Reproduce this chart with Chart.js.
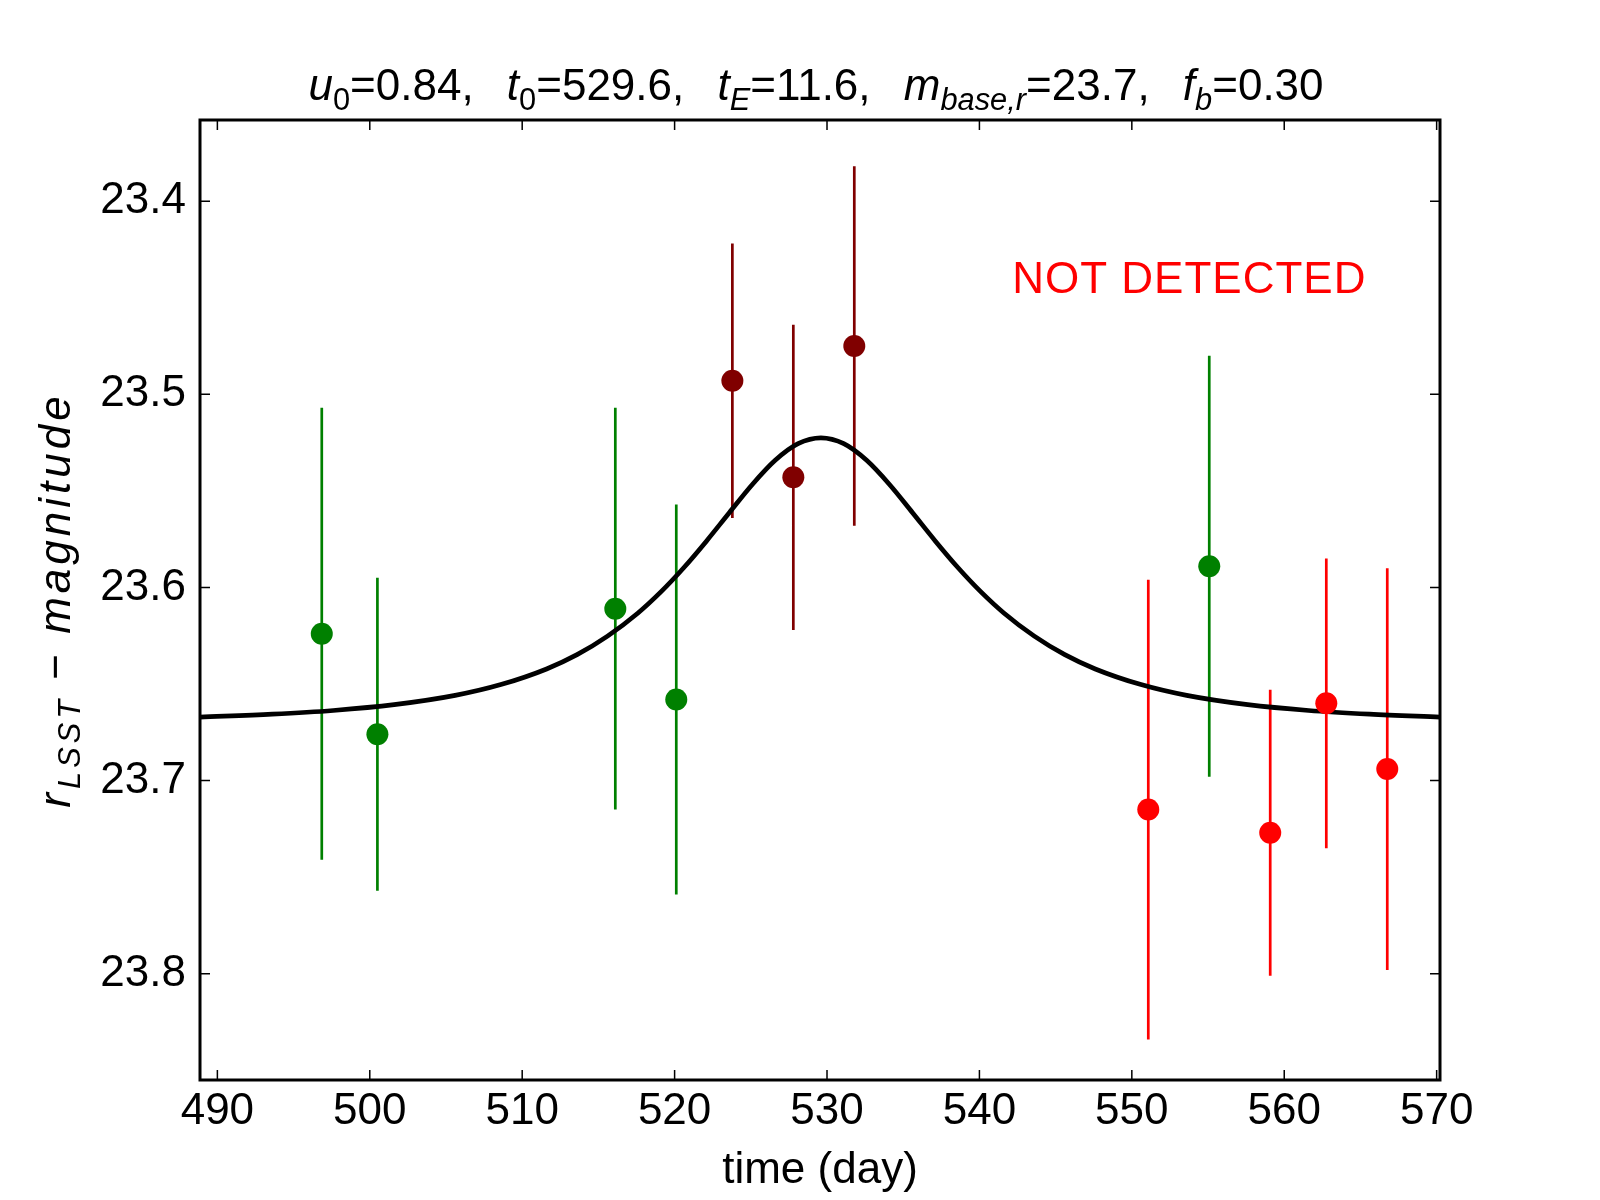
<!DOCTYPE html>
<html>
<head>
<meta charset="utf-8">
<title>Light curve</title>
<script src="https://cdn.jsdelivr.net/npm/chart.js@4.4.1/dist/chart.umd.min.js"></script>
<style>
  html, body { margin: 0; padding: 0; background: #fff; }
  #wrap { width: 1600px; height: 1200px; }
</style>
</head>
<body>
<div id="wrap"><canvas id="lightcurve"></canvas></div>
<script>
// epochs (day), r magnitudes and 1-sigma errors, one group per colour
const greenTimes = [496.85, 500.50, 516.11, 520.11, 555.08]
const greenMags = [23.624, 23.676, 23.611, 23.658, 23.589]
const greenErrs = [0.117, 0.081, 0.104, 0.101, 0.109]

const peakTimes = [523.79, 527.79, 531.79]
const peakMags = [23.493, 23.543, 23.475]
const peakErrs = [0.071, 0.079, 0.093]

const redTimes = [551.08, 559.08, 562.76, 566.76]
const redMags = [23.715, 23.727, 23.660, 23.694]
const redErrs = [0.119, 0.074, 0.075, 0.104]

// model light curve
const modelTimes = [488.86, 493.6, 497.6, 501.6, 505.6, 508.6, 511.6, 513.6, 515.6, 517.6,
  519.1, 520.6, 522.1, 523.6, 525.1, 526.6, 528.1, 529.6, 531.1, 532.6, 534.1, 535.6,
  537.1, 538.6, 540.1, 541.6, 543.6, 545.6, 547.6, 550.6, 553.6, 557.6, 561.6, 565.6, 570.22]
const modelMags = [23.6671, 23.6656, 23.6637, 23.6607, 23.6559, 23.6503, 23.6422, 23.6348, 23.6252, 23.6132,
  23.6023, 23.5898, 23.5759, 23.5612, 23.5467, 23.5342, 23.5256, 23.5226, 23.5256, 23.5342, 23.5467, 23.5612,
  23.5759, 23.5898, 23.6023, 23.6132, 23.6252, 23.6348, 23.6422, 23.6503, 23.6559, 23.6607, 23.6637, 23.6656, 23.6671]

const xTicks = [490, 500, 510, 520, 530, 540, 550, 560, 570]
const yTicks = [23.4, 23.5, 23.6, 23.7, 23.8]
const xRange = [488.86, 570.22]
const yRange = [23.358, 23.855]

const GREEN = '#008000'
const DARKRED = '#800000'
const RED = '#ff0000'
const FONT = '"Liberation Sans", Arial, sans-serif'
const SIZE = 44
const GAP = '  \u2009'

// mathtext-like labels: it = italic, sub = subscript
const titleParts = [
  { t: 'u', it: 1 }, { t: '0', sub: 1 }, { t: '=0.84,' + GAP },
  { t: 't', it: 1 }, { t: '0', sub: 1 }, { t: '=529.6,' + GAP },
  { t: 't', it: 1 }, { t: 'E', it: 1, sub: 1 }, { t: '=11.6,' + GAP },
  { t: 'm', it: 1 }, { t: 'base,r', it: 1, sub: 1 }, { t: '=23.7,' + GAP },
  { t: 'f', it: 1 }, { t: 'b', it: 1, sub: 1 }, { t: '=0.30' }
]
const yLabelParts = [
  { t: 'r', it: 1 }, { t: 'LSST', it: 1, sub: 1 }, { t: ' \u2212 ' }, { t: 'magnitude', it: 1 }
]

function points(ts, ms) {
  return ts.map((t, i) => ({ x: t, y: ms[i] }))
}

// vertical error segments, broken by null gaps
function errorSegments(ts, ms, es) {
  const out = []
  ts.forEach((t, i) => {
    out.push({ x: t, y: ms[i] - es[i] })
    out.push({ x: t, y: ms[i] + es[i] })
    out.push({ x: t, y: null })
  })
  return out
}

function partFont(p, size) {
  const s = p.sub ? size * 0.7 : size
  return (p.it ? 'italic ' : '') + s + 'px ' + FONT
}

function richWidth(ctx, parts, size) {
  let w = 0
  parts.forEach(p => {
    ctx.font = partFont(p, size)
    w += ctx.measureText(p.t).width
  })
  return w
}

function drawRich(ctx, parts, x, y, size) {
  let cx = x
  parts.forEach(p => {
    ctx.font = partFont(p, size)
    ctx.fillText(p.t, cx, y + (p.sub ? size * 0.22 : 0))
    cx += ctx.measureText(p.t).width
  })
}

const framePlugin = {
  id: 'frame',
  afterDraw(chart) {
    const ctx = chart.ctx
    const a = chart.chartArea
    const xs = chart.scales.x
    const ys = chart.scales.y
    ctx.save()

    // inward ticks on all four sides
    ctx.strokeStyle = '#000'
    ctx.lineWidth = 1.5
    ctx.beginPath()
    xTicks.forEach(v => {
      const px = xs.getPixelForValue(v)
      ctx.moveTo(px, a.bottom); ctx.lineTo(px, a.bottom - 10)
      ctx.moveTo(px, a.top); ctx.lineTo(px, a.top + 10)
    })
    yTicks.forEach(v => {
      const py = ys.getPixelForValue(v)
      ctx.moveTo(a.left, py); ctx.lineTo(a.left + 10, py)
      ctx.moveTo(a.right, py); ctx.lineTo(a.right - 10, py)
    })
    ctx.stroke()

    ctx.lineWidth = 3
    ctx.strokeRect(a.left, a.top, a.right - a.left, a.bottom - a.top)

    ctx.fillStyle = '#000'
    ctx.textBaseline = 'alphabetic'
    ctx.textAlign = 'left'

    // title
    const cx = (a.left + a.right) / 2
    const tw = richWidth(ctx, titleParts, SIZE)
    drawRich(ctx, titleParts, cx - 4 - tw / 2, 100, SIZE)

    // x axis label
    ctx.font = SIZE + 'px ' + FONT
    ctx.textAlign = 'center'
    ctx.fillText('time (day)', cx, 1183)
    ctx.textAlign = 'left'

    // y axis label, the math italic runs wider
    ctx.letterSpacing = '4px'
    const yw = richWidth(ctx, yLabelParts, SIZE)
    ctx.save()
    ctx.translate(70, (a.top + a.bottom) / 2)
    ctx.rotate(-Math.PI / 2)
    drawRich(ctx, yLabelParts, -yw / 2, 0, SIZE)
    ctx.restore()

    // annotation
    ctx.letterSpacing = '1px'
    ctx.fillStyle = RED
    ctx.font = SIZE + 'px ' + FONT
    ctx.fillText('NOT DETECTED', a.left + 0.655 * (a.right - a.left), a.top + 0.18 * (a.bottom - a.top))
    ctx.letterSpacing = '0px'

    ctx.restore()
  }
}

const tickFont = { family: FONT, size: SIZE }

new Chart(document.getElementById('lightcurve'), {
  type: 'scatter',
  data: {
    datasets: [
      { data: points(greenTimes, greenMags), backgroundColor: GREEN, pointRadius: 11, pointBorderWidth: 0, order: 0 },
      { data: points(peakTimes, peakMags), backgroundColor: DARKRED, pointRadius: 11, pointBorderWidth: 0, order: 0 },
      { data: points(redTimes, redMags), backgroundColor: RED, pointRadius: 11, pointBorderWidth: 0, order: 0 },
      {
        type: 'line',
        data: points(modelTimes, modelMags),
        borderColor: '#000',
        borderWidth: 4.7,
        pointRadius: 0,
        cubicInterpolationMode: 'monotone',
        fill: false,
        order: 1
      },
      { type: 'line', data: errorSegments(greenTimes, greenMags, greenErrs), borderColor: GREEN, borderWidth: 2.7, pointRadius: 0, spanGaps: false, order: 2 },
      { type: 'line', data: errorSegments(peakTimes, peakMags, peakErrs), borderColor: DARKRED, borderWidth: 2.7, pointRadius: 0, spanGaps: false, order: 2 },
      { type: 'line', data: errorSegments(redTimes, redMags, redErrs), borderColor: RED, borderWidth: 2.7, pointRadius: 0, spanGaps: false, order: 2 }
    ]
  },
  options: {
    responsive: true,
    maintainAspectRatio: false,
    animation: false,
    layout: {
      padding: { top: 120, right: 160, bottom: 0, left: 0 }
    },
    plugins: {
      legend: { display: false },
      tooltip: { enabled: false }
    },
    scales: {
      x: {
        type: 'linear',
        min: xRange[0],
        max: xRange[1],
        afterBuildTicks: s => { s.ticks = xTicks.map(v => ({ value: v })) },
        afterFit: s => { s.height = 120 },
        ticks: {
          font: tickFont,
          color: '#000',
          padding: 5,
          maxRotation: 0,
          autoSkip: false,
          callback: v => String(v)
        },
        grid: { display: false, drawTicks: false },
        border: { display: false }
      },
      y: {
        type: 'linear',
        reverse: true,
        min: yRange[0],
        max: yRange[1],
        afterBuildTicks: s => { s.ticks = yTicks.map(v => ({ value: v })) },
        afterFit: s => { s.width = 200 },
        ticks: {
          font: tickFont,
          color: '#000',
          padding: 14,
          autoSkip: false,
          callback: v => v.toFixed(1)
        },
        grid: { display: false, drawTicks: false },
        border: { display: false }
      }
    }
  },
  plugins: [framePlugin]
})
</script>
</body>
</html>
